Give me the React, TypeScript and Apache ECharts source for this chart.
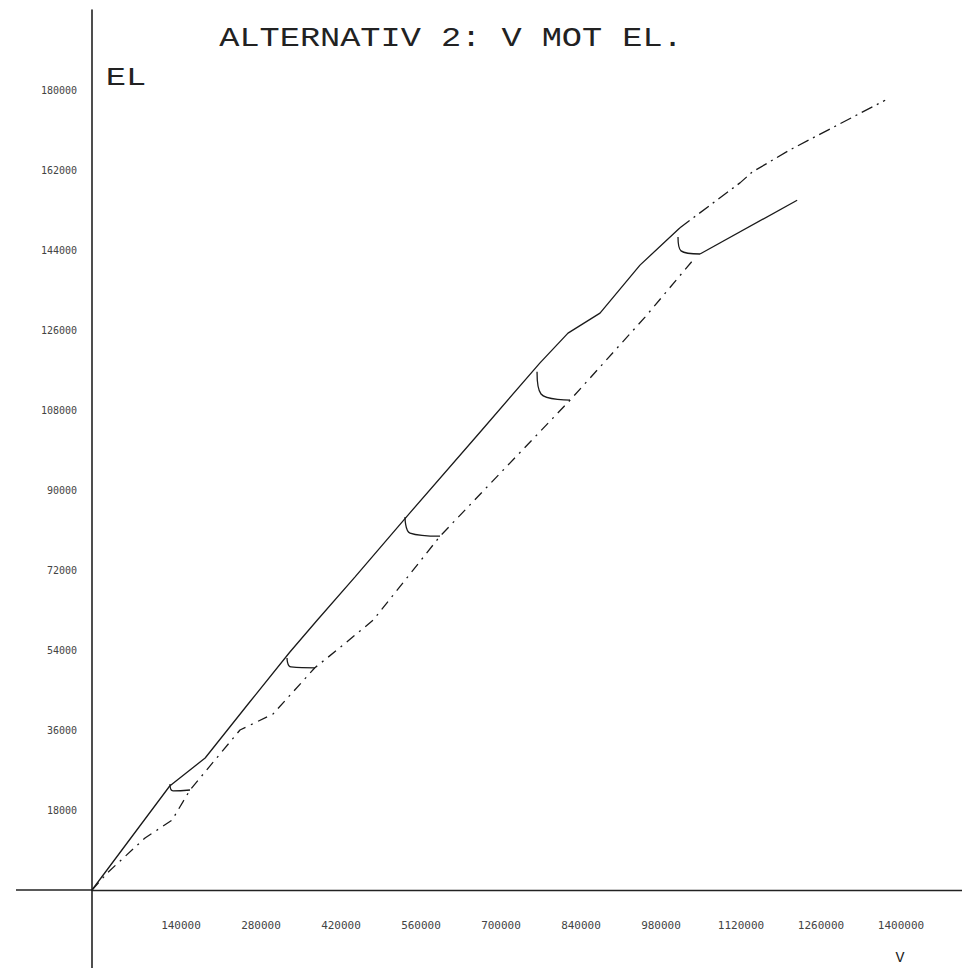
import React, { useEffect, useRef } from "react";
import * as echarts from "echarts";

const titleText = "ALTERNATIV 2: V MOT EL.";
const yName = "EL";
const xName = "V";

const xMin = 0;
const xMax = 1522500;
const xStep = 140000;
const xLabelMax = 1400000;
const yMin = 0;
const yMax = 198000;
const yStep = 18000;
const yLabelMax = 180000;

// upper curve (solid)
const upperSolid: number[][] = [
  [0, 0], [136000, 23400], [198000, 29700], [276000, 42300], [346000, 53500],
  [394000, 60700], [460000, 70400], [556000, 84800], [679000, 103000],
  [784000, 118600], [833000, 125300], [889000, 129800], [959000, 140600],
  [1029000, 149000],
];
// upper curve continuation (dash-dot)
const upperTail: number[][] = [
  [1029000, 149000], [1087000, 154600], [1134000, 159100], [1155000, 161500],
  [1221000, 166500], [1388000, 177700],
];
// lower curve (dash-dot)
const lowerDashed: number[][] = [
  [0, 0], [28000, 4000], [92800, 11700], [140000, 15700], [171500, 22500],
  [259000, 36000], [316800, 39600], [390000, 50000], [428800, 54000],
  [491800, 60700], [547800, 69700], [609000, 79600], [836500, 110200],
  [967800, 128900], [1055000, 142200],
];
// lower curve end (solid)
const lowerSolid: number[][] = [[1064000, 143100], [1234000, 155200]];
// transition hooks (solid)
const hook1: number[][] = [[136500, 23850], [141800, 22300], [171500, 22500]];
const hook2: number[][] = [[341300, 52200], [348300, 50200], [390000, 50000]];
const hook3: number[][] = [[547800, 83900], [556500, 80300], [609000, 79600]];
const hook4: number[][] = [[778800, 116600], [785800, 111600], [836500, 110200]];
const hook5: number[][] = [[1025500, 146900], [1030800, 143800], [1064000, 143100]];
const hooks = [hook1, hook2, hook3, hook4, hook5];

const ink = "#1a1a1a";

export default function App() {
  const ref = useRef<HTMLDivElement>(null);
  useEffect(() => {
    if (!ref.current) return;
    const chart = echarts.init(ref.current, null, { renderer: "svg" });
    const line = (name: string, data: number[][], type: any, smooth: any = false) => ({
      name,
      type: "line",
      data,
      symbol: "none",
      smooth,
      lineStyle: { color: ink, width: 1.3, type },
      z: 3,
    });
    chart.setOption({
      animation: false,
      backgroundColor: "#ffffff",
      grid: {
        left: 92,
        top: 10,
        width: 870,
        height: 880,
        containLabel: false,
        outerBoundsMode: "none",
      },
      xAxis: {
        type: "value",
        min: xMin,
        max: xMax,
        interval: xStep,
        axisLine: { lineStyle: { color: "#222", width: 1.3 } },
        axisTick: { show: false },
        splitLine: { show: false },
        axisLabel: {
          formatter: (v: number) => (v > 0 && v <= xLabelMax ? String(v) : ""),
          margin: 30,
          fontSize: 11,
          fontFamily: "DejaVu Sans Mono",
          color: "#444",
          padding: [0, 0, 0, 18],
        },
      },
      yAxis: {
        type: "value",
        min: yMin,
        max: yMax,
        interval: yStep,
        axisLine: { lineStyle: { color: "#222", width: 1.6 } },
        axisTick: { show: false },
        splitLine: { show: false },
        axisLabel: {
          formatter: (v: number) => (v > 0 && v <= yLabelMax ? String(v) : ""),
          margin: 15,
          fontSize: 10,
          fontFamily: "DejaVu Sans Mono",
          color: "#444",
        },
      },
      graphic: [
        {
          type: "line",
          shape: { x1: 16, y1: 890, x2: 92, y2: 890 },
          style: { stroke: "#222", lineWidth: 1.3 },
        },
        {
          type: "line",
          shape: { x1: 92, y1: 890, x2: 92, y2: 968 },
          style: { stroke: "#222", lineWidth: 1.6 },
        },
        {
          type: "text",
          x: 451,
          y: 38,
          scaleX: 1.2,
          style: {
            text: titleText,
            fontSize: 28,
            fontFamily: "Liberation Mono",
            fill: "#222",
            align: "center",
            verticalAlign: "middle",
          },
        },
        {
          type: "text",
          x: 126,
          y: 78,
          scaleX: 1.3,
          style: {
            text: yName,
            fontSize: 26,
            fontFamily: "Liberation Mono",
            fill: "#222",
            align: "center",
            verticalAlign: "middle",
          },
        },
        {
          type: "text",
          x: 900,
          y: 958,
          style: {
            text: xName,
            fontSize: 15,
            fontFamily: "Liberation Mono",
            fill: "#222",
            align: "center",
            verticalAlign: "middle",
          },
        },
      ],
      series: [
        line("upper", upperSolid, "solid"),
        line("upperTail", upperTail, [12, 5, 2, 5]),
        line("lower", lowerDashed, [10, 6, 2, 6]),
        line("lowerEnd", lowerSolid, "solid"),
        ...hooks.map((h, i) => line("hook" + (i + 1), h, "solid", 0.5)),
      ],
    });
    return () => chart.dispose();
  }, []);
  return (
    <div
      ref={ref}
      style={{ position: "fixed", left: 0, top: 0, width: 962, height: 968, background: "#fff" }}
    />
  );
}
